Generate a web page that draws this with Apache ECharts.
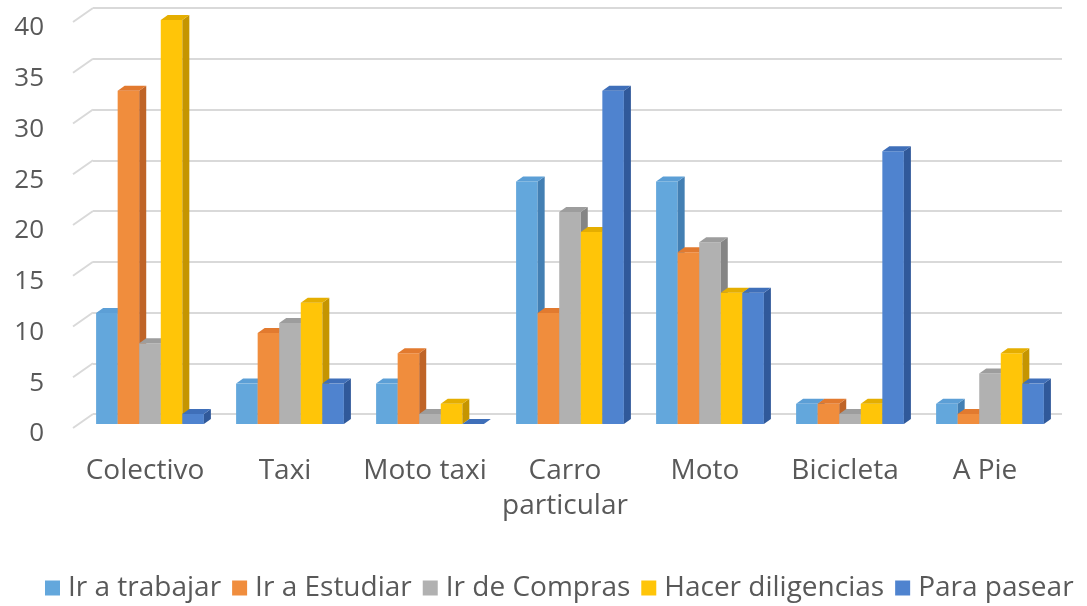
<!DOCTYPE html>
<html>
<head>
<meta charset="utf-8">
<script src="https://cdn.jsdelivr.net/npm/echarts@6/dist/echarts.min.js"></script>
<style>
  html, body { margin: 0; padding: 0; background: #fff; }
  #chart { width: 1087px; height: 606px; }
</style>
</head>
<body>
<div id="chart"></div>
<script>
const categories = ["Colectivo", "Taxi", "Moto taxi", "Carro\nparticular", "Moto", "Bicicleta", "A Pie"]
const seriesNames = ["Ir a trabajar", "Ir a Estudiar", "Ir de Compras", "Hacer diligencias", "Para pasear"]
const irTrabajar = [11, 4, 4, 24, 24, 2, 2]
const irEstudiar = [33, 9, 7, 11, 17, 2, 1]
const irCompras = [8, 10, 1, 21, 18, 1, 5]
const hacerDiligencias = [40, 12, 2, 19, 13, 2, 7]
const paraPasear = [1, 4, 0, 33, 13, 27, 4]
const yTicks = [0, 5, 10, 15, 20, 25, 30, 35, 40]

const seriesValues = [irTrabajar, irEstudiar, irCompras, hacerDiligencias, paraPasear]
// front, side, top
const palette = [
	["#63a7dc", "#437fb3", "#5c9fd6"],
	["#f08d3d", "#bf6427", "#e27a2f"],
	["#b1b1b1", "#858585", "#9d9d9d"],
	["#ffc508", "#c59500", "#e5ae00"],
	["#4f83cf", "#30599a", "#3f6fb9"],
]

const DX = 7, DY = 5 // 3d depth offset of the bars
const gridColor = "#d9d9d9"
const textColor = "#595959"
const font = "Open Sans"

const chart = echarts.init(document.getElementById("chart"))

const renderBar = (k) => (params, api) => {
	const cat = api.value(0)
	const v = api.value(1)
	const base = api.coord([cat, 0])
	const top = api.coord([cat, v])
	const band = api.size([1, 0])[0]
	const w = band * 0.154
	const x0 = base[0] - 2.5 * w + k * w + 5
	const yb = base[1], yt = top[1]
	const c = palette[k]
	const children = []
	if (yb - yt > 0.5) {
		children.push({
			type: "rect",
			shape: { x: x0, y: yt, width: w, height: yb - yt },
			style: { fill: c[0] },
		})
	}
	children.push({
		type: "polygon",
		shape: { points: [[x0 + w, yb], [x0 + w + DX, yb - DY], [x0 + w + DX, yt - DY], [x0 + w, yt]] },
		style: { fill: c[1] },
	})
	children.push({
		type: "polygon",
		shape: { points: [[x0, yt], [x0 + DX, yt - DY], [x0 + w + DX, yt - DY], [x0 + w, yt]] },
		style: { fill: c[2] },
	})
	return { type: "group", children }
}

// floor-to-wall diagonal of each gridline, at the left edge of the plot
const renderDiagonal = (params, api) => {
	const y = api.coord([0, api.value(0)])[1]
	const x = params.coordSys.x
	return {
		type: "line",
		shape: { x1: x, y1: y - 6, x2: x + 20, y2: y - 20 },
		style: { stroke: gridColor, lineWidth: 2 },
	}
}

let series = seriesNames.map((name, k) => ({
	name: name,
	type: "custom",
	xAxisIndex: 1,
	yAxisIndex: 1,
	itemStyle: { color: palette[k][0] },
	renderItem: renderBar(k),
	encode: { x: 0, y: 1 },
	data: seriesValues[k].map((v, i) => [i, v]),
	z: 5,
}))

series.push({
	type: "custom",
	xAxisIndex: 2,
	yAxisIndex: 2,
	renderItem: renderDiagonal,
	encode: { y: 0 },
	data: yTicks.map((t) => [t]),
	silent: true,
	z: 1,
})

const options = {
	animation: false,
	legend: {
		data: seriesNames,
		left: 40,
		top: 569,
		icon: "rect",
		itemWidth: 15,
		itemHeight: 15,
		itemGap: 11,
		textStyle: { color: textColor, fontSize: 28, fontFamily: font, padding: [0, 0, 0, 3] },
	},
	grid: [
		{ left: 93, right: 25, top: 8, height: 406 },
		{ left: 75, right: 32, top: 20, height: 404 },
		{ left: 73, right: 25, top: 28, height: 406 },
	],
	xAxis: [
		{ gridIndex: 0, type: "category", data: categories, show: false },
		{
			gridIndex: 1,
			type: "category",
			data: categories,
			axisLine: { show: false },
			axisTick: { show: false },
			axisLabel: {
				color: textColor,
				fontSize: 28,
				fontFamily: font,
				margin: 30,
				lineHeight: 35,
				interval: 0,
				verticalAlign: "top",
			},
		},
		{ gridIndex: 2, type: "category", data: categories, show: false },
	],
	yAxis: [
		{
			gridIndex: 0,
			type: "value",
			min: 0,
			max: 40,
			interval: 5,
			axisLabel: { show: false },
			axisLine: { show: false },
			axisTick: { show: false },
			splitLine: { lineStyle: { color: gridColor, width: 2 } },
		},
		{ gridIndex: 1, type: "value", min: 0, max: 40, interval: 5, show: false },
		{
			gridIndex: 2,
			type: "value",
			min: 0,
			max: 40,
			interval: 5,
			axisLine: { show: false },
			axisTick: { show: false },
			splitLine: { show: false },
			axisLabel: { color: textColor, fontSize: 26, fontFamily: font, margin: 29 },
		},
	],
	series: series,
}

chart.setOption(options)
</script>
</body>
</html>
